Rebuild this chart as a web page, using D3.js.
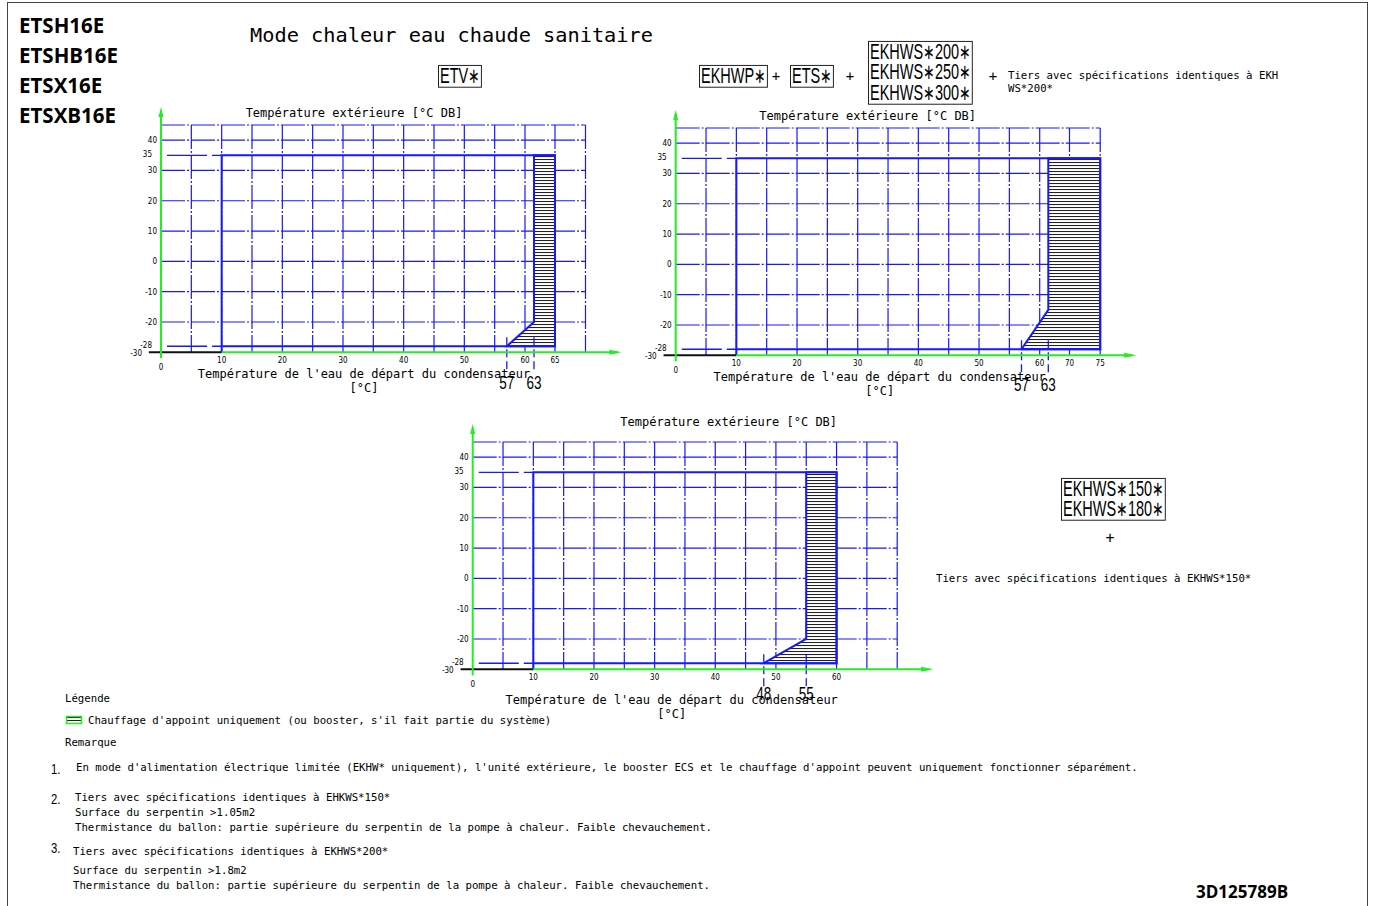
<!DOCTYPE html>
<html>
<head>
<meta charset="utf-8">
<script src="https://cdn.jsdelivr.net/npm/d3@7"></script>
<style>
  body { margin: 0; background: #fff; }
  svg { display: block; }
  .mono { font-family: "DejaVu Sans Mono", monospace; }
  .narrow { font-family: "DejaVu Sans Condensed", "DejaVu Sans", sans-serif; }
  .sans { font-family: "Liberation Sans", "Roboto", sans-serif; }
  .bold { font-family: "Open Sans", "Noto Sans", sans-serif; font-weight: 700; }
</style>
</head>
<body>
<div id="sheet"></div>
<script>
// ===== Data =====
const models = ['ETSH16E', 'ETSHB16E', 'ETSX16E', 'ETSXB16E'];
const yTicks = [40, 30, 20, 10, 0, -10, -20];
const yGrid = [45, 40, 30, 20, 10, 0, -10, -20];
const yRefs = [35, -28];

// chart A : ETV*
const xTicksA = [10, 20, 30, 40, 50, 60, 65];
const xGridA = [5, 10, 15, 20, 25, 30, 35, 40, 45, 50, 55, 60, 65, 70];
const envelopeA = [[10, -30], [10, 35], [65, 35], [65, -28], [10, -28]];
const backupA = [[63, 35], [65, 35], [65, -28], [57, -28], [63, -20]];
const marksA = [57, 63];

// chart B : EKHWP* + ETS* + EKHWS*200/250/300*
const xTicksB = [10, 20, 30, 40, 50, 60, 70, 75];
const xGridB = [5, 10, 15, 20, 25, 30, 35, 40, 45, 50, 55, 60, 70, 75];
const envelopeB = [[10, -30], [10, 35], [75, 35], [75, -28], [10, -28]];
const backupB = [[63, 35], [75, 35], [75, -28], [57, -28], [63, -15]];
const marksB = [57, 63];

// chart C : EKHWS*150/180*
const xTicksC = [10, 20, 30, 40, 50, 60];
const xGridC = [5, 10, 15, 20, 25, 30, 35, 40, 45, 50, 55, 60, 65, 70];
const envelopeC = [[10, -30], [10, 35], [60, 35], [60, -28], [10, -28]];
const backupC = [[55, 35], [60, 35], [60, -28], [48, -28], [55, -20]];
const marksC = [48, 55];

const notes = [
  { num: '1.', lines: ["En mode d'alimentation électrique limitée (EKHW* uniquement), l'unité extérieure, le booster ECS et le chauffage d'appoint peuvent uniquement fonctionner séparément."] },
  { num: '2.', lines: ['Tiers avec spécifications identiques à EHKWS*150*', 'Surface du serpentin >1.05m2', 'Thermistance du ballon: partie supérieure du serpentin de la pompe à chaleur. Faible chevauchement.'] },
  { num: '3.', lines: ['Tiers avec spécifications identiques à EKHWS*200*', 'Surface du serpentin >1.8m2', 'Thermistance du ballon: partie supérieure du serpentin de la pompe à chaleur. Faible chevauchement.'] }
];

(function() {
  const W = 1373, H = 906;
  const BLUE = '#1818ff', GREEN = '#22ee22';
  const SQ = 0.66; // horizontal squeeze for the narrow labels

  const svg = d3.select('#sheet').append('svg')
    .attr('width', W).attr('height', H);

  // hatch pattern for backup heater zone
  const defs = svg.append('defs');
  const pat = defs.append('pattern')
    .attr('id', 'hatch').attr('patternUnits', 'userSpaceOnUse')
    .attr('width', 6).attr('height', 3);
  pat.append('rect').attr('width', 6).attr('height', 3).attr('fill', '#fff');
  pat.append('line').attr('x1', 0).attr('x2', 6).attr('y1', 0.5).attr('y2', 0.5)
    .attr('stroke', '#222').attr('stroke-width', 1.1);

  // page frame
  svg.append('rect').attr('x', 7.5).attr('y', 2.5).attr('width', 1360).attr('height', 930)
    .attr('fill', 'none').attr('stroke', '#444').attr('stroke-width', 1);

  // model names
  svg.append('g').selectAll('text').data(models).join('text')
    .attr('class', 'bold').attr('x', 19).attr('y', (d, i) => 33 + i * 30)
    .attr('font-size', 20.5).text(d => d);

  svg.append('text').attr('class', 'mono').attr('x', 250).attr('y', 42)
    .attr('font-size', 20.3).text('Mode chaleur eau chaude sanitaire');

  svg.append('text').attr('class', 'bold').attr('x', 1196).attr('y', 898)
    .attr('font-size', 17).text('3D125789B');

  // squeezed text helper (narrow font look)
  function squeezed(parent, x, y, size, anchor, sq) {
    return parent.append('text').attr('class', 'sans').attr('font-size', size)
      .attr('text-anchor', anchor || 'start')
      .attr('transform', `translate(${x},${y}) scale(${sq || 0.75},1)`);
  }

  // boxed reference labels, asterisks drawn a bit smaller
  function boxText(x, y, lines, lh) {
    const g = svg.append('g');
    const t = squeezed(g, x, y, 22, 'start', SQ);
    lines.forEach((s, i) => {
      const row = t.append('tspan').attr('x', 0).attr('y', i * lh);
      s.split(/(∗)/).filter(p => p).forEach(p => {
        row.append('tspan').attr('font-size', p === '∗' ? 21 : 22).text(p);
      });
    });
    const b = t.node().getBBox();
    g.insert('rect', 'text')
      .attr('x', x + b.x * SQ - 1.5).attr('y', y + b.y + 2.5)
      .attr('width', b.width * SQ + 3).attr('height', b.height - 3)
      .attr('fill', '#fff').attr('stroke', '#222').attr('stroke-width', 1);
  }
  function plus(x, y, size) {
    svg.append('text').attr('class', 'mono').attr('x', x).attr('y', y)
      .attr('text-anchor', 'middle').attr('font-size', size || 14).text('+');
  }
  function small(x, y, s) {
    svg.append('text').attr('class', 'mono').attr('x', x).attr('y', y)
      .attr('font-size', 10.7).text(s);
  }

  boxText(440, 83, ['ETV∗'], 20);
  boxText(701, 83, ['EKHWP∗'], 20);
  plus(776, 81);
  boxText(792, 83, ['ETS∗'], 20);
  plus(850, 81);
  boxText(870, 59, ['EKHWS∗200∗', 'EKHWS∗250∗', 'EKHWS∗300∗'], 20.5);
  plus(993, 81);
  small(1008, 79, 'Tiers avec spécifications identiques à EKH');
  small(1008, 92, 'WS*200*');

  boxText(1063, 496, ['EKHWS∗150∗', 'EKHWS∗180∗'], 20);
  plus(1110, 543, 15);
  small(936, 582, 'Tiers avec spécifications identiques à EKHWS*150*');

  // ===== operating range charts =====
  const charts = [
    { left: 161, top: 125, xDomain: [0, 60, 63, 65, 70], xRange: [0, 364, 373, 394, 424.5],
      xTicks: xTicksA, xGrid: xGridA, envelope: envelopeA, backup: backupA, marks: marksA,
      yTitle: [193, -8], xTitle: [203, 26], markY: 37 },
    { left: 675.7, top: 128, xDomain: [0, 60, 63, 70, 75], xRange: [0, 364, 372.6, 393.8, 424.5],
      xTicks: xTicksB, xGrid: xGridB, envelope: envelopeB, backup: backupB, marks: marksB,
      yTitle: [192, -8], xTitle: [204, 26], markY: 36 },
    { left: 472.7, top: 442, xDomain: [0, 70], xRange: [0, 424.5],
      xTicks: xTicksC, xGrid: xGridC, envelope: envelopeC, backup: backupC, marks: marksC,
      yTitle: [256, -16], xTitle: [199, 35], markY: 31 }
  ];

  charts.forEach(drawChart);

  function drawChart(c) {
    const x = d3.scaleLinear().domain(c.xDomain).range(c.xRange.map(v => c.left + v));
    const y = d3.scaleLinear().domain([-30, 45]).range([c.top + 227.3, c.top]);
    const g = svg.append('g');
    const xEnd = x(c.xGrid[c.xGrid.length - 1]);
    const line = d3.line().x(d => x(d[0])).y(d => y(d[1]));

    // grid (dash-dot)
    g.append('g').selectAll('line').data(c.xGrid).join('line')
      .attr('x1', d => x(d)).attr('x2', d => x(d))
      .attr('y1', y(45)).attr('y2', y(-30))
      .attr('stroke', BLUE).attr('stroke-width', 1.2)
      .attr('stroke-dasharray', '24,2,2,2');
    g.append('g').selectAll('line').data(yGrid).join('line')
      .attr('x1', x(0)).attr('x2', xEnd)
      .attr('y1', d => y(d)).attr('y2', d => y(d))
      .attr('stroke', BLUE).attr('stroke-width', 1.2)
      .attr('stroke-dasharray', '24,2,2,2');

    // reference dashes at 35 and -28 left of envelope
    g.append('g').selectAll('line').data(yRefs).join('line')
      .attr('x1', x(1)).attr('x2', x(10))
      .attr('y1', d => y(d)).attr('y2', d => y(d))
      .attr('stroke', BLUE).attr('stroke-width', 1.3)
      .attr('stroke-dasharray', '40,5');

    // backup heater zone
    g.append('path').datum(c.backup)
      .attr('d', d => line(d) + 'Z')
      .attr('fill', 'url(#hatch)').attr('stroke', BLUE).attr('stroke-width', 2);

    // operating envelope
    g.append('path').datum(c.envelope)
      .attr('d', line)
      .attr('fill', 'none').attr('stroke', BLUE).attr('stroke-width', 2);

    // boundary marks below axis
    const axisY = y(-30);
    g.append('g').selectAll('line').data(c.marks).join('line')
      .attr('x1', d => x(d)).attr('x2', d => x(d))
      .attr('y1', y(-25)).attr('y2', axisY + 20)
      .attr('stroke', BLUE).attr('stroke-width', 1.3).attr('stroke-dasharray', '8,4');
    c.marks.forEach(m => squeezed(g, x(m), axisY + c.markY, 18, 'middle').text(m));

    // axes
    g.append('line').attr('x1', x(-2)).attr('x2', x(10)).attr('y1', axisY).attr('y2', axisY)
      .attr('stroke', '#111').attr('stroke-width', 2);
    g.append('line').attr('x1', x(10)).attr('x2', xEnd + 32).attr('y1', axisY).attr('y2', axisY)
      .attr('stroke', GREEN).attr('stroke-width', 2);
    g.append('path')
      .attr('d', `M${xEnd + 24},${axisY - 2.5}L${xEnd + 36},${axisY}L${xEnd + 24},${axisY + 2.5}Z`)
      .attr('fill', GREEN);
    g.append('line').attr('x1', x(0)).attr('x2', x(0)).attr('y1', y(-32)).attr('y2', c.top - 14)
      .attr('stroke', GREEN).attr('stroke-width', 2);
    g.append('path')
      .attr('d', `M${x(0) - 2.5},${c.top - 8}L${x(0)},${c.top - 18}L${x(0) + 2.5},${c.top - 8}Z`)
      .attr('fill', GREEN);

    // tick labels
    g.append('g').selectAll('text').data(yTicks).join('text')
      .attr('class', 'narrow').attr('font-size', 8)
      .attr('x', x(0) - 4).attr('y', d => y(d) + 3)
      .attr('text-anchor', 'end').text(d => d);
    g.append('g').selectAll('text').data(yRefs).join('text')
      .attr('class', 'narrow').attr('font-size', 8)
      .attr('x', x(0) - 9).attr('y', d => y(d) + 2)
      .attr('text-anchor', 'end').text(d => d);
    g.append('text').attr('class', 'narrow').attr('font-size', 8)
      .attr('x', x(0) - 19).attr('y', axisY + 4).attr('text-anchor', 'end').text(-30);
    g.append('text').attr('class', 'narrow').attr('font-size', 8)
      .attr('x', x(0)).attr('y', axisY + 18).attr('text-anchor', 'middle').text(0);
    g.append('g').selectAll('text').data(c.xTicks).join('text')
      .attr('class', 'narrow').attr('font-size', 8)
      .attr('x', d => x(d)).attr('y', axisY + 11)
      .attr('text-anchor', 'middle').text(d => d);

    // titles
    g.append('text').attr('class', 'mono').attr('font-size', 12)
      .attr('x', c.left + c.yTitle[0]).attr('y', c.top + c.yTitle[1])
      .attr('text-anchor', 'middle').text('Température extérieure [°C DB]');
    g.append('text').attr('class', 'mono').attr('font-size', 12)
      .attr('x', c.left + c.xTitle[0]).attr('y', axisY + c.xTitle[1])
      .attr('text-anchor', 'middle').text("Température de l'eau de départ du condensateur");
    g.append('text').attr('class', 'mono').attr('font-size', 12)
      .attr('x', c.left + c.xTitle[0]).attr('y', axisY + c.xTitle[1] + 14)
      .attr('text-anchor', 'middle').text('[°C]');
  }

  // ===== legend & remarks =====
  small(65, 702, 'Légende');
  svg.append('rect').attr('x', 66.5).attr('y', 716.5).attr('width', 15).attr('height', 7)
    .attr('fill', 'url(#hatch)').attr('stroke', GREEN).attr('stroke-width', 1.5);
  small(88, 724, "Chauffage d'appoint uniquement (ou booster, s'il fait partie du système)");
  small(65, 746, 'Remarque');

  const noteTop = [771, 801, 855];
  const noteGap = [[0], [0, 15, 30], [0, 19, 34]];
  const noteX = [76, 75, 73];
  notes.forEach((n, i) => {
    squeezed(svg, 51, noteTop[i] + (i === 2 ? -2 : 3), 15).text(n.num);
    n.lines.forEach((s, j) => small(noteX[i], noteTop[i] + noteGap[i][j], s));
  });
})();
</script>
</body>
</html>
